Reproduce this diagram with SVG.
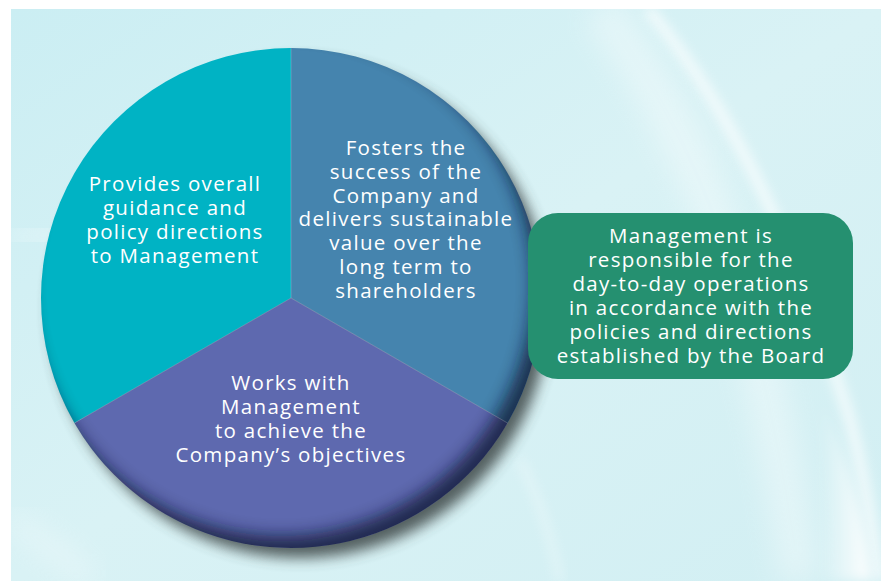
<svg xmlns="http://www.w3.org/2000/svg" width="881" height="581" viewBox="0 0 881 581">
  <defs>
    <style>
      .txt { font-family: "Open Sans", "Liberation Sans", sans-serif; font-size: 20.5px; letter-spacing: 1.3px; fill: #ffffff; text-anchor: middle; }
    </style>
    <linearGradient id="bgGrad" x1="0" y1="0" x2="1" y2="1">
      <stop offset="0" stop-color="#cbeef3"/>
      <stop offset="0.5" stop-color="#d9f2f5"/>
      <stop offset="1" stop-color="#d2eff3"/>
    </linearGradient>
    <linearGradient id="edgeGlow" x1="0" y1="0" x2="1" y2="0">
      <stop offset="0" stop-color="#ffffff" stop-opacity="0"/>
      <stop offset="1" stop-color="#ffffff" stop-opacity="1"/>
    </linearGradient>
    <filter id="soft" x="-20%" y="-20%" width="140%" height="140%">
      <feGaussianBlur stdDeviation="6"/>
    </filter>
    <filter id="softer" x="-20%" y="-20%" width="140%" height="140%">
      <feGaussianBlur stdDeviation="14"/>
    </filter>
    <filter id="dropBlur" x="-20%" y="-20%" width="140%" height="140%">
      <feGaussianBlur stdDeviation="7"/>
    </filter>
    <filter id="innerBlur" x="-20%" y="-20%" width="140%" height="140%">
      <feGaussianBlur stdDeviation="8"/>
    </filter>
    <clipPath id="pieClip">
      <circle cx="291" cy="298" r="250"/>
    </clipPath>
    <clipPath id="bgClip">
      <rect x="11" y="9" width="870" height="572"/>
    </clipPath>
  </defs>

  <!-- page background -->
  <rect width="881" height="581" fill="#ffffff"/>
  <g id="background" clip-path="url(#bgClip)">
    <rect x="11" y="9" width="870" height="572" fill="url(#bgGrad)"/>
    <!-- light sweeping arcs -->
    <path d="M648,9 C740,120 800,260 850,420 C865,480 875,540 880,581" fill="none" stroke="#ffffff" stroke-width="10" opacity="0.75" filter="url(#soft)"/>
    <path d="M600,9 C700,140 760,300 800,581" fill="none" stroke="#ffffff" stroke-width="40" opacity="0.35" filter="url(#softer)"/>
    <path d="M820,400 C850,460 866,520 872,581 L820,581 Z" fill="url(#edgeGlow)" filter="url(#soft)"/>
    <path d="M520,460 C540,500 552,540 560,581" fill="none" stroke="#ffffff" stroke-width="4" opacity="0.6" filter="url(#soft)"/>
    <path d="M11,240 C60,230 120,228 160,232" fill="none" stroke="#ffffff" stroke-width="14" opacity="0.5" filter="url(#softer)"/>
    <path d="M11,520 C40,540 70,560 90,581" fill="none" stroke="#ffffff" stroke-width="18" opacity="0.35" filter="url(#softer)"/>
  </g>

  <!-- drop shadow under the pie -->
  <circle cx="300" cy="309" r="249" fill="#3e4646" opacity="0.85" filter="url(#dropBlur)"/>

  <g id="pie">
    <g id="segment-board">
      <path d="M291,298 L291,48 A250,250 0 0 0 74.5,423 Z" fill="#00b3c4"/>
    </g>
    <g id="segment-company">
      <path d="M291,298 L291,48 A250,250 0 0 1 507.5,423 Z" fill="#4584ae"/>
    </g>
    <g id="segment-management">
      <path d="M291,298 L74.5,423 A250,250 0 0 0 507.5,423 Z" fill="#5e69af"/>
    </g>
    <!-- inner rim shading, heavier toward the lower right -->
    <g clip-path="url(#pieClip)">
      <path d="M0,0 H881 V581 H0 Z M281,284 m-252,0 a252,252 0 1 0 504,0 a252,252 0 1 0 -504,0 Z" fill="#101530" fill-rule="evenodd" opacity="0.75" filter="url(#innerBlur)"/>
    </g>
  </g>

  <g id="connectors">
    <path d="M291,298 L291,48 M291,298 L74.5,423 M291,298 L507.5,423" fill="none" stroke="#ffffff" stroke-opacity="0.2" stroke-width="1"/>
  </g>

  <g id="label-board">
    <text class="txt" x="175" y="191">Provides overall</text>
    <text class="txt" x="175" y="215">guidance and</text>
    <text class="txt" x="175" y="239">policy directions</text>
    <text class="txt" x="175" y="263">to Management</text>
  </g>

  <g id="label-company">
    <text class="txt" x="406" y="155">Fosters the</text>
    <text class="txt" x="406" y="179">success of the</text>
    <text class="txt" x="406" y="203">Company and</text>
    <text class="txt" x="406" y="226">delivers sustainable</text>
    <text class="txt" x="406" y="250">value over the</text>
    <text class="txt" x="406" y="274">long term to</text>
    <text class="txt" x="406" y="298">shareholders</text>
  </g>

  <g id="label-management">
    <text class="txt" x="291" y="390">Works with</text>
    <text class="txt" x="291" y="414">Management</text>
    <text class="txt" x="291" y="438">to achieve the</text>
    <text class="txt" x="291" y="462">Company’s objectives</text>
  </g>

  <g id="management-box">
    <rect x="528" y="213" width="325" height="166" rx="30" ry="30" fill="#259070"/>
    <text class="txt" x="691" y="243">Management is</text>
    <text class="txt" x="691" y="267">responsible for the</text>
    <text class="txt" x="691" y="291">day-to-day operations</text>
    <text class="txt" x="691" y="315">in accordance with the</text>
    <text class="txt" x="691" y="339">policies and directions</text>
    <text class="txt" x="691" y="363">established by the Board</text>
  </g>
</svg>
